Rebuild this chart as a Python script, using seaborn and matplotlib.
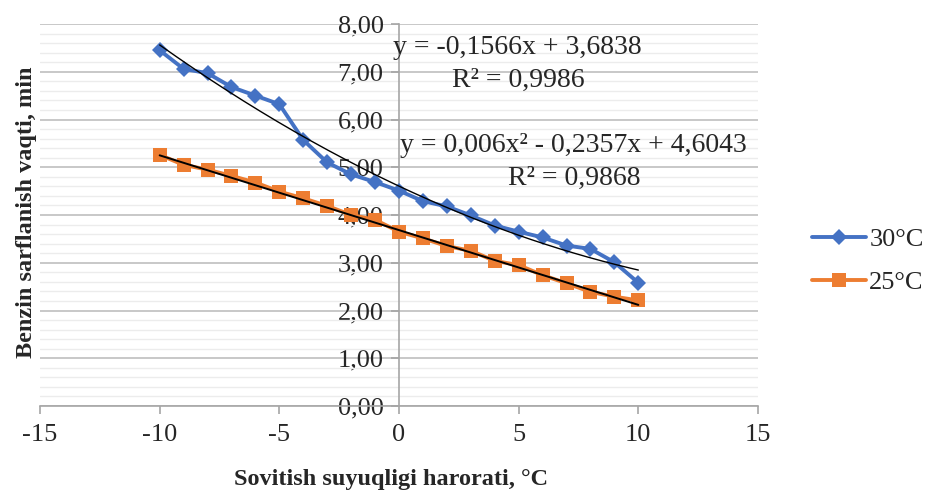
import numpy as np
import pandas as pd
import matplotlib
matplotlib.use("Agg")
import matplotlib.pyplot as plt
import seaborn as sns
from matplotlib.ticker import MultipleLocator, FuncFormatter
from matplotlib.lines import Line2D

# ---- data ----
temps = [-10, -9, -8, -7, -6, -5, -4, -3, -2, -1, 0, 1, 2, 3, 4, 5, 6, 7, 8, 9, 10]
t30 = [7.45, 7.06, 6.97, 6.68, 6.50, 6.32, 5.57, 5.10, 4.85, 4.69, 4.51,
       4.29, 4.18, 3.99, 3.78, 3.65, 3.53, 3.36, 3.29, 3.01, 2.58]
t25 = [5.26, 5.05, 4.95, 4.82, 4.68, 4.49, 4.35, 4.19, 4.00, 3.90, 3.65,
       3.51, 3.35, 3.25, 3.04, 2.95, 2.74, 2.57, 2.39, 2.29, 2.21]
series_names = ["30°C", "25°C"]
poly30 = [0.006, -0.2357, 4.6043]   # quadratic trendline for 30°C
lin25 = [-0.1566, 3.6838]           # linear trendline for 25°C
eq_lin = "y = -0,1566x + 3,6838"
r2_lin = "R² = 0,9986"
eq_poly = "y = 0,006x² - 0,2357x + 4,6043"
r2_poly = "R² = 0,9868"
xlabel = "Sovitish suyuqligi harorati, °C"
ylabel = "Benzin sarflanish vaqti, min"

df = pd.DataFrame({
    "x": temps * 2,
    "y": t30 + t25,
    "s": [series_names[0]] * len(temps) + [series_names[1]] * len(temps),
})

sns.set_theme(style="white")
plt.rcParams["font.family"] = ["Liberation Serif", "DejaVu Serif"]

W, H = 928, 492
fig = plt.figure(figsize=(W / 100, H / 100), dpi=100)
ax = fig.add_axes([40 / W, 1 - 406 / H, (758 - 40) / W, (406 - 24) / H])

blue = "#4472C4"
orange = "#ED7D31"

sns.lineplot(data=df, x="x", y="y", hue="s", style="s",
             palette={series_names[0]: blue, series_names[1]: orange},
             markers={series_names[0]: "D", series_names[1]: "s"},
             dashes=False, linewidth=2.8,
             markersize=9, markeredgewidth=0, ax=ax, legend=False, zorder=3)
for ln, ms in zip(ax.lines, [8.5, 10]):
    ln.set_markersize(ms)

xs = np.linspace(min(temps), max(temps), 200)
ax.plot(xs, np.polyval(poly30, xs), color="black", lw=1.0, zorder=4)
ax.plot(xs, np.polyval(lin25, xs), color="black", lw=1.4, zorder=4)

ax.set_xlim(-15, 15)
ax.set_ylim(0, 8)
ax.xaxis.set_major_locator(MultipleLocator(5))
ax.yaxis.set_major_locator(MultipleLocator(1))
ax.yaxis.set_minor_locator(MultipleLocator(0.2))
ax.yaxis.set_major_formatter(FuncFormatter(lambda v, p: f"{v:.2f}".replace(".", ",")))
ax.xaxis.set_major_formatter(FuncFormatter(lambda v, p: f"{int(round(v))}"))

ax.grid(axis="y", which="major", color="#bfbfbf", lw=1.2, zorder=0)
ax.grid(axis="y", which="minor", color="#ececec", lw=1.0, zorder=0)
ax.grid(axis="x", visible=False)

for s in ["top", "right"]:
    ax.spines[s].set_visible(False)
ax.spines["left"].set_position(("data", 0))
ax.spines["left"].set_color("#a6a6a6")
ax.spines["left"].set_linewidth(1.2)
ax.spines["bottom"].set_color("#a6a6a6")
ax.spines["bottom"].set_linewidth(1.2)

ax.tick_params(axis="y", which="major", direction="out", length=6, width=1.2,
               color="#a6a6a6", labelsize=19, pad=5, left=True)
ax.tick_params(axis="y", which="minor", length=0)
ax.tick_params(axis="x", which="major", direction="out", length=6, width=1.2,
               color="#a6a6a6", labelsize=19, pad=7, bottom=True)

ax.set_xlabel("")
ax.set_ylabel("")
fig.text(391 / W, 1 - 479 / H, xlabel, ha="center", va="center",
         fontsize=17.5, fontweight="bold")
fig.text(27 / W, 1 - 212 / H, ylabel, ha="center", va="center",
         rotation=90, fontsize=17.5, fontweight="bold")

fig.text(517 / W, 1 - 48 / H, eq_lin, ha="center", va="center", fontsize=20)
fig.text(518 / W, 1 - 80 / H, r2_lin, ha="center", va="center", fontsize=20)
fig.text(573 / W, 1 - 146 / H, eq_poly, ha="center", va="center", fontsize=20)
fig.text(574 / W, 1 - 178 / H, r2_poly, ha="center", va="center", fontsize=20)

handles = [Line2D([], [], color=blue, lw=2.8, marker="D", ms=8.5, mew=0),
           Line2D([], [], color=orange, lw=2.8, marker="s", ms=10, mew=0)]
fig.legend(handles, series_names, loc="center left",
           bbox_to_anchor=(812 / W, 1 - 261 / H), frameon=False,
           borderpad=0, borderaxespad=0,
           fontsize=19, handlelength=2.05, handletextpad=0.12, labelspacing=0.72)

fig.savefig("out.png", dpi=100)
